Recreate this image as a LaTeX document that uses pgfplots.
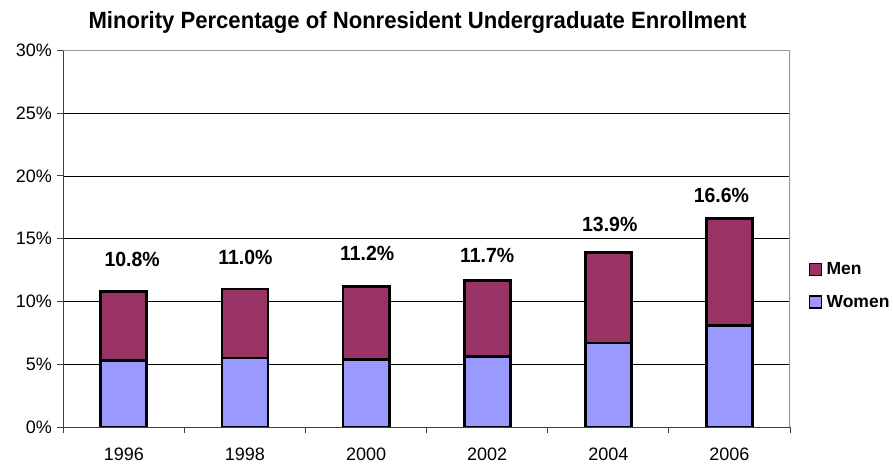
\documentclass[border=0pt]{standalone}
\usepackage{pgfplots}
\usepackage{pgfplotstable}
\pgfplotsset{compat=1.18}
\usepackage{fontspec}
\setmainfont{Liberation Sans}
\newfontfamily\titlefont{Liberation Sans}[FakeStretch=0.94]
\newfontfamily\lblfont{Liberation Sans}[FakeStretch=0.95]
\definecolor{men}{HTML}{993366}
\definecolor{women}{HTML}{9999FF}
\definecolor{axgray}{HTML}{999999}

\pgfplotstableread{
x women men total dx dy
0 5.3 5.5 10.8 8.3 59.0
1 5.5 5.5 11.0 0.5 58.5
2 5.4 5.8 11.2 1 62.8
3 5.6 6.1 11.7 0 56.2
4 6.7 7.2 13.9 1.4 66.2
5 8.1 8.5 16.6 -8 69.9
}\datatable

\begin{document}
\begin{tikzpicture}
\path[use as bounding box] (-63.3bp,-37bp) rectangle (829.7bp,427bp);
\begin{axis}[
  at={(0,0)}, anchor=south west,
  scale only axis, width=726.7bp, height=376.5bp,
  ybar stacked, bar width=0.38,
  xmin=-0.5, xmax=5.5, ymin=0, ymax=30,
  xtick={-0.5,0.5,1.5,2.5,3.5,4.5,5.5},
  xticklabels={1996,1998,2000,2002,2004,2006,{}},
  xticklabel style={xshift=60.55bp, yshift=-11bp},
  yticklabel style={xshift=-2bp},
  ytick={0,5,10,15,20,25,30},
  yticklabels={0\%,5\%,10\%,15\%,20\%,25\%,30\%},
  ymajorgrids, grid style={black, line width=0.8bp},
  axis x line*=bottom, axis y line*=left,
  axis line style={black!75, line width=1bp},
  tick align=outside, major tick length=6bp,
  tick style={black!75, line width=1bp},
  ticklabel style={font=\fontsize{18bp}{20bp}\selectfont},
  reverse legend,
  legend style={at={(axis description cs:1.026,0.436)}, anchor=north west,
    draw=none, fill=none, inner sep=0pt, outer sep=0pt,
    font=\bfseries\fontsize{17.5bp}{20bp}\selectfont,
    row sep=19bp,
    nodes={inner sep=0pt}},
  legend cell align=left,
]
\addplot+[fill=women, draw=black, line width=2.8bp,
  legend image code/.code={\draw[fill=women, draw=black, line width=1.4bp] (0bp,-6bp) rectangle (12bp,6bp);
    \path[draw=none, fill=none] (12bp,0bp) -- (17bp,0bp);}]
  table[x=x, y=women] {\datatable};
\addlegendentry{Women}
\addplot+[fill=men, draw=black, line width=2.8bp,
  legend image code/.code={\draw[fill=men, draw=black, line width=1.4bp] (0bp,-6bp) rectangle (12bp,6bp);
    \path[draw=none, fill=none] (12bp,0bp) -- (17bp,0bp);},
  point meta=explicit symbolic,
  visualization depends on={\thisrow{dx} \as \dx},
  visualization depends on={\thisrow{dy} \as \dy},
  nodes near coords={\pgfplotspointmeta\%},
  nodes near coords style={anchor=base, inner sep=0pt, xshift=\dx bp, yshift=\dy bp,
    font=\lblfont\bfseries\fontsize{20.5bp}{24bp}\selectfont, text=black}]
  table[x=x, y=men, meta=total] {\datatable};
\addlegendentry{Men}
\draw[axgray, line width=1.2bp] (rel axis cs:0,1) -- (rel axis cs:1,1) -- (rel axis cs:1,0);
\end{axis}
\node[anchor=base, font=\titlefont\bfseries\fontsize{23.5bp}{28bp}\selectfont] at (354.2bp,398.7bp)
  {Minority Percentage of Nonresident Undergraduate Enrollment};
\end{tikzpicture}
\end{document}
